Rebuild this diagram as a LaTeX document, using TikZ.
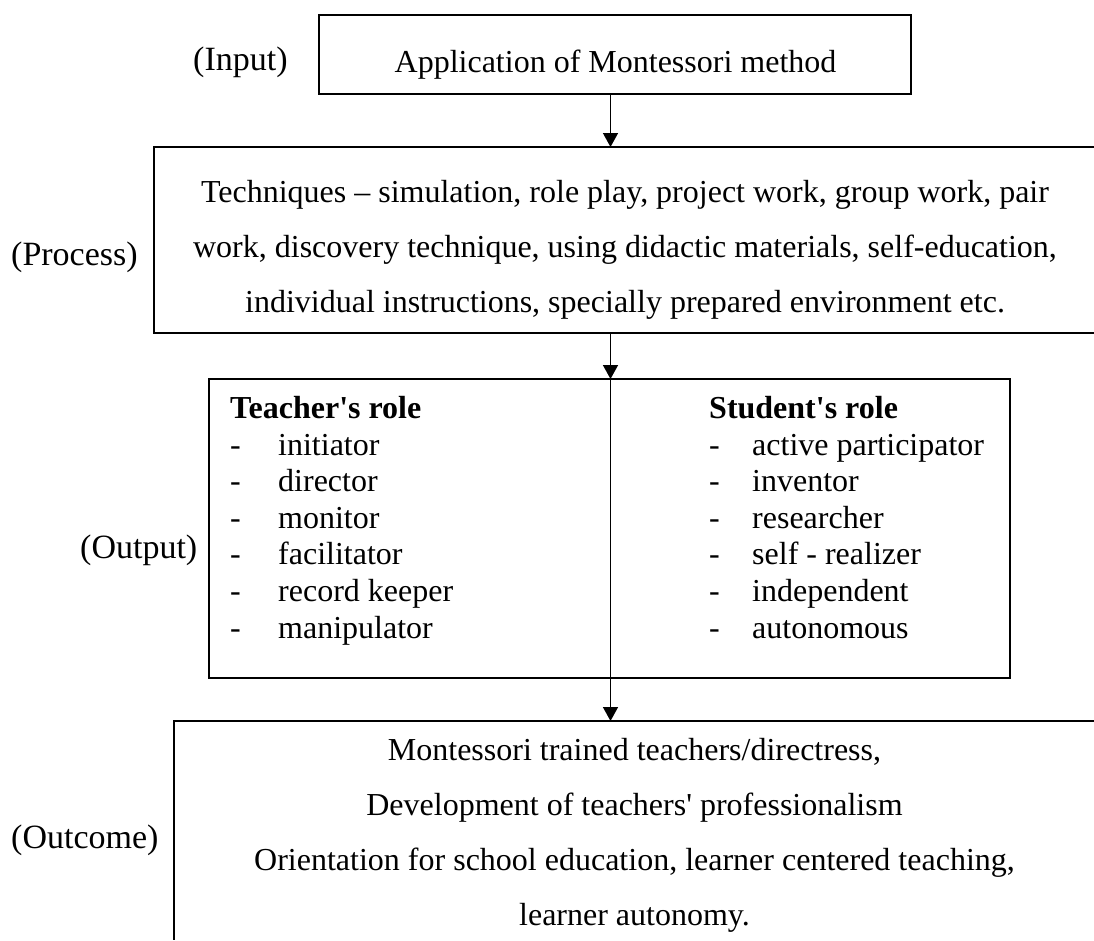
\documentclass[tikz,border=0pt]{standalone}
\usepackage{fontspec}
\setmainfont{Liberation Serif}
\usetikzlibrary{arrows.meta}
\begin{document}
\begin{tikzpicture}[x=1pt,y=-1pt,
  boxline/.style={line width=1.8pt},
  conn/.style={line width=1.5pt,-{Triangle[length=14pt,width=15pt]}},
  frame/.style={inner sep=0pt, outer sep=0pt},
  body/.style={inner sep=0pt, font=\fontsize{32}{36.7}\selectfont, anchor=base},
  bodyl/.style={body, anchor=base west},
  lbl/.style={inner sep=0pt, font=\fontsize{34}{40}\selectfont, anchor=base west}]
\useasboundingbox (0,0) rectangle (1094,940);
\fill[white] (0,0) rectangle (1094,940);

% frames
\node[frame, draw, boxline, minimum width=592pt, minimum height=79pt] (inp) at (615,54.5) {};
\node[frame, minimum width=940pt, minimum height=186pt] (proc) at (624,240) {};
\draw[boxline] (proc.north east) -- (proc.north west) -- (proc.south west) -- (proc.south east);
\node[frame, draw, boxline, minimum width=801pt, minimum height=299pt] (outp) at (609.5,528.5) {};
\node[frame, minimum width=920pt, minimum height=219pt] (outc) at (634,830.5) {};
\draw[boxline] (outc.north east) -- (outc.north west) -- (outc.south west);

% connectors
\coordinate (colx) at (610.5,0);
\draw[conn] (inp.south -| colx) -- (proc.north -| colx);
\draw[conn] (proc.south -| colx) -- (outp.north -| colx);
\draw[conn] (outp.north -| colx) -- (outc.north -| colx);

% side labels
\node[lbl] (linput) at (193,70) {(Input)};
\node[lbl] (lprocess) at (11,265) {(Process)};
\node[lbl] (loutput) at (80,558) {(Output)};
\node[lbl] (loutcome) at (11,848) {(Outcome)};

% input text
\node[body] (tinput) at (615.5,72) {Application of Montessori method};

% process text
\node[body] (tp1) at (625,202) {Techniques – simulation, role play, project work, group work, pair};
\node[body] (tp2) at (625,257) {work, discovery technique, using didactic materials, self-education,};
\node[body] (tp3) at (625,312) {individual instructions, specially prepared environment etc.};

% output columns
\node[bodyl, font=\fontsize{32}{36.7}\selectfont\bfseries] (thead) at (230,418) {Teacher\textquotesingle s role};
\node[bodyl, font=\fontsize{32}{36.7}\selectfont\bfseries] (shead) at (709,418) {Student\textquotesingle s role};
\foreach \t [count=\i] in {initiator, director, monitor, facilitator, record keeper, manipulator}{
  \node[bodyl] (td\i) at (230,{455+36.6*(\i-1)}) {-};
  \node[bodyl] (ti\i) at (278,{455+36.6*(\i-1)}) {\t};
}
\foreach \t [count=\i] in {active participator, inventor, researcher, self - realizer, independent, autonomous}{
  \node[bodyl] (sd\i) at (709,{455+36.6*(\i-1)}) {-};
  \node[bodyl] (si\i) at (752,{455+36.6*(\i-1)}) {\t};
}

% outcome text
\node[body] (to1) at (634.5,760) {Montessori trained teachers/directress,};
\node[body] (to2) at (634.5,815) {Development of teachers\textquotesingle\ professionalism};
\node[body] (to3) at (634.5,870) {Orientation for school education, learner centered teaching,};
\node[body] (to4) at (634.5,925) {learner autonomy.};
\end{tikzpicture}
\end{document}
